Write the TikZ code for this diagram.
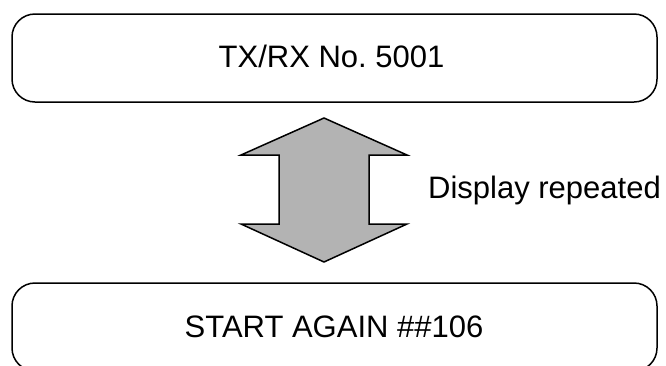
\documentclass[tikz,border=0pt]{standalone}
\usepackage{fontspec}
\setmainfont{Liberation Sans}
\begin{document}
\begin{tikzpicture}[x=1pt,y=-1pt,
  box/.style={draw, line width=1.5pt, rounded corners=23pt, minimum width=645pt, minimum height=88pt, inner sep=0pt},
  lbl/.style={font=\fontsize{31}{36}\selectfont, inner sep=0pt},
  bigarrow/.style={draw, line width=1.5pt, fill={rgb,255:red,179;green,179;blue,179}, line join=miter}]
\useasboundingbox (0,0) rectangle (666,365);
\clip (0,0) rectangle (666,365);
\node[box] (top) at (334.5,58) {};
\node[lbl, anchor=base] (toptxt) at (331.5,67) {TX/RX No.\ 5001};
\node[box] (bot) at (334.5,327) {};
\node[lbl, anchor=base] (bottxt) at (334,337) {START AGAIN \#\#106};
\coordinate (tipA) at (324,118);
\coordinate (tipB) at (324,262);
\draw[bigarrow] (tipA) -- (407,155) -- (369,155) -- (369,224) -- (407,224) -- (tipB)
  -- (241,224) -- (279,224) -- (279,155) -- (241,155) -- cycle;
\node[lbl, anchor=base west] (disp) at (428,198) {Display repeated};
\end{tikzpicture}
\end{document}
